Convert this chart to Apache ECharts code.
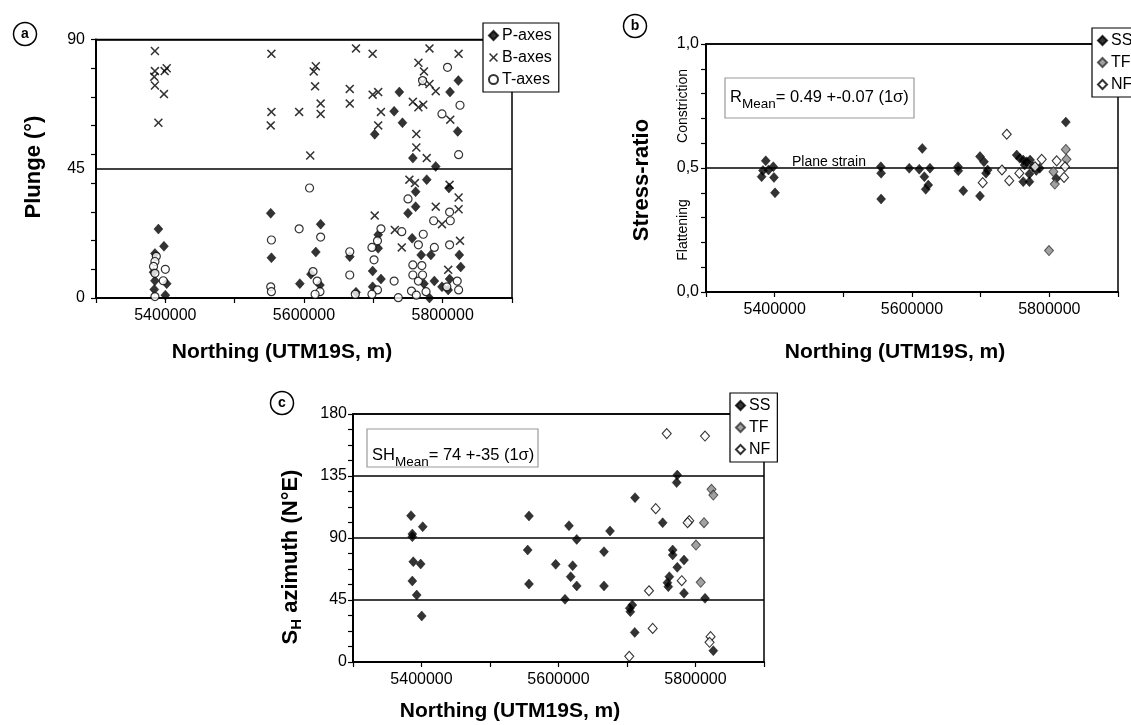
<!DOCTYPE html>
<html><head><meta charset="utf-8">
<script src="https://cdn.jsdelivr.net/npm/echarts/dist/echarts.min.js"></script>
<style>html,body{margin:0;padding:0;background:#fff}#c{width:1131px;height:725px}</style>
</head><body><div id="c"></div>
<script>
// ---------- data ----------
const northingLabels = [5400000, 5600000, 5800000];
const plungeLabels = [0, 45, 90];
const ratioLabels = [0, 0.5, 1];
const azimuthLabels = [0, 45, 90, 135, 180];

const pAxes = [[5390000,24],[5398000,18],[5385000,15.5],[5383000,9],[5385000,6],[5402000,5],[5384000,3],[5400000,1],
 [5552000,29.5],[5553000,14],[5594000,5],[5610000,8.3],[5617000,16],[5624000,25.7],[5623000,4.5],
 [5666000,14.4],[5675000,2],[5699000,9.4],[5699000,3.9],[5707000,22],[5707000,17.3],[5711000,6.6],[5702000,57],
 [5730000,65],[5737500,71.7],[5742000,61],[5750000,29.5],[5757000,48.7],[5756000,20.8],[5761000,37],[5761000,31.8],
 [5769000,15],[5777000,41.2],[5773000,5],[5781000,0],[5783000,15],[5788000,5.9],[5790000,45.8],
 [5799000,3.9],[5808000,2.8],[5810000,6.6],[5809000,38.3],[5810600,71.7],[5822600,75.7],[5821700,58],[5824000,15],[5826000,10.8]];
const bAxes = [[5385000,86],[5385000,79],[5402000,80],[5384000,77],[5385000,74],[5398000,71],[5390000,61],[5399000,79],
 [5553000,85],[5553000,64.8],[5552000,60.1],[5593000,64.8],[5609000,49.6],[5617000,80.7],[5614000,78.9],[5616000,73.7],
 [5624000,67.7],[5624000,64.1],[5675000,86.9],[5666000,72.8],[5666000,67.7],[5699000,85],[5699000,70.8],[5707000,71.7],
 [5711000,64.8],[5707000,60.1],[5765000,81.9],[5781000,86.9],[5773000,78.9],[5771000,75.2],[5781000,74.5],[5790000,72],
 [5757000,68.3],[5765000,66.4],[5772000,67.3],[5823000,85],[5811000,62.1],[5762000,57.1],[5762000,52.4],[5777000,48.7],
 [5752000,41.2],[5760000,40],[5810000,39.4],[5823000,35],[5790000,31.8],[5823000,30.9],[5799000,25.7],[5702000,28.7],
 [5731000,23.7],[5741000,17.6],[5825000,19.9],[5808000,9.8]];
const tAxes = [[5387000,14.5],[5385000,12.7],[5383000,11],[5385000,8.6],[5400000,10],[5397000,6],[5385000,0.5],
 [5807000,80.3],[5825000,67.1],[5799000,64.1],[5771000,75.7],[5823000,49.9],
 [5608000,38.3],[5593000,24.1],[5553000,20.2],[5624000,21.2],[5552000,3.9],[5553000,2.2],[5613000,9.2],[5619000,5.9],
 [5623000,2.2],[5616000,1.3],[5666000,16.1],[5666000,8],[5674000,1.3],[5711000,24.1],[5706000,19.9],[5698000,17.6],
 [5701000,13.3],[5706000,2.8],[5698000,1.3],[5730000,5.9],[5736000,0.1],[5750000,34.5],[5741000,23.1],[5772000,22.2],
 [5765000,18.5],[5787000,26.9],[5810000,29.9],[5811000,26.9],[5810000,18.5],[5788000,17.6],[5757000,11.5],[5770000,11.3],
 [5757000,8],[5765000,5.9],[5771000,8],[5755000,2.4],[5762000,1],[5776000,2.2],[5821000,5.9],[5823000,2.8],[5806000,3.9]];

const ratioSS = [[5381000,0.465],[5387000,0.529],[5391000,0.492],[5398000,0.505],[5383000,0.49],[5399000,0.462],[5400500,0.40],
 [5554600,0.505],[5555000,0.479],[5555000,0.375],[5596000,0.499],[5610600,0.495],[5626200,0.499],[5615000,0.579],
 [5618000,0.465],[5623700,0.431],[5620000,0.414],[5667000,0.505],[5667400,0.489],[5674700,0.408],
 [5699000,0.546],[5704800,0.525],[5710200,0.492],[5707800,0.479],[5699000,0.387],
 [5752500,0.552],[5757000,0.539],[5762000,0.532],[5767000,0.525],[5772000,0.532],[5764000,0.512],[5776000,0.505],
 [5762000,0.445],[5771000,0.445],[5771000,0.476],[5786000,0.499],[5781000,0.49],[5810000,0.458],[5824000,0.685]];
const ratioTF = [[5806000,0.485],[5824000,0.575],[5825000,0.535],[5808000,0.435],[5799500,0.167]];
const ratioNF = [[5703000,0.441],[5731000,0.492],[5738000,0.636],[5741600,0.449],[5756300,0.479],[5779100,0.505],
 [5788900,0.535],[5810700,0.529],[5822800,0.505],[5821400,0.462]];

const azSS = [[5384700,106.2],[5401800,98.2],[5386600,92.9],[5386600,90.9],[5388000,72.8],[5398800,71.1],[5386600,58.8],
 [5393000,48.6],[5400300,33.4],[5556900,106],[5555000,81.3],[5556900,56.6],[5615300,98.9],[5626600,89],[5595900,70.9],
 [5620700,69.9],[5617800,61.9],[5626600,55.2],[5609500,45.5],[5675200,95.1],[5666400,80.1],[5666400,55.2],
 [5711700,119.3],[5704000,39],[5707800,41.4],[5704900,36.5],[5711300,21.5],[5773400,135.7],[5772500,130.2],
 [5752100,101.1],[5766700,81.3],[5766700,77.7],[5783200,74],[5773400,68.7],[5761800,61.9],[5760300,54.7],
 [5759000,57.5],[5783200,49.9],[5813900,46.2],[5826000,8.2]];
const azTF = [[5823400,125.3],[5826000,121.2],[5812400,101.1],[5800700,84.9],[5807600,57.8]];
const azNF = [[5758000,165.8],[5813900,164],[5741900,111.3],[5790900,102.6],[5788500,101.1],[5779900,59],[5732100,51.7],
 [5737500,24.4],[5822000,18.4],[5820500,14.3],[5703300,4.1]];

// ---------- chart ----------
const FONT = "'Liberation Sans', Arial, Helvetica, sans-serif";
const cv = document.createElement('canvas').getContext('2d');
function tw(t, size, weight) { cv.font = (weight || 'normal') + ' ' + size + 'px ' + FONT; return cv.measureText(t).width; }

const XPATH = 'path://M0,1.2L1.2,0L5,3.8L8.8,0L10,1.2L6.2,5L10,8.8L8.8,10L5,6.2L1.2,10L0,8.8L3.8,5Z';

const gridBase = { show: true, borderColor: '#000', borderWidth: 1.5, backgroundColor: 'rgba(0,0,0,0)', containLabel: false, outerBoundsMode: 'none' };
const grids = [
  Object.assign({}, gridBase, { left: 96, top: 39.5, width: 416, height: 258.5 }),
  Object.assign({}, gridBase, { left: 706, top: 44, width: 412, height: 248 }),
  Object.assign({}, gridBase, { left: 353, top: 414, width: 411, height: 248 })
];

function xAx(gi) {
  return { type: 'value', gridIndex: gi, min: 5300000, max: 5900000, interval: 100000,
    axisLine: { show: true, onZero: false, lineStyle: { color: '#000', width: 2 } },
    axisTick: { show: true, length: 5, lineStyle: { color: '#000', width: 1.2 } },
    axisLabel: { show: true, color: '#000', fontSize: 16, fontFamily: FONT, margin: 10,
      formatter: v => northingLabels.indexOf(v) >= 0 ? String(v) : '' },
    splitLine: { show: false } };
}
function yLab(gi, labels, fmt, margin) {
  return { type: 'value', gridIndex: gi, min: labels[0], max: labels[labels.length - 1], interval: labels[1] - labels[0], position: 'left',
    axisLine: { show: true, onZero: false, lineStyle: { color: '#000', width: 2 } }, axisTick: { show: false },
    axisLabel: { show: true, color: '#000', fontSize: 16, fontFamily: FONT, margin: margin, formatter: fmt },
    splitLine: { show: true, lineStyle: { color: '#000', width: 1.5 } } };
}
function yTick(gi, max, interval) {
  return { type: 'value', gridIndex: gi, min: 0, max: max, interval: interval, position: 'left',
    axisLine: { show: false, onZero: false }, axisTick: { show: true, length: 5, lineStyle: { color: '#000', width: 1.2 } },
    axisLabel: { show: false }, splitLine: { show: false } };
}

const diamondBlack = { symbol: 'diamond', symbolSize: [9, 10], itemStyle: { color: '#000', borderColor: '#000', borderWidth: 0.5 } };
const diamondGray = { symbol: 'diamond', symbolSize: [9, 10], itemStyle: { color: '#8a8a8a', borderColor: '#333', borderWidth: 1 } };
const diamondOpen = { symbol: 'diamond', symbolSize: [9, 10], itemStyle: { color: '#fff', borderColor: '#000', borderWidth: 1.1 } };

function sc(name, xi, yi, data, st) {
  return Object.assign({ type: 'scatter', name: name, xAxisIndex: xi, yAxisIndex: yi, data: data, silent: true,
    emphasis: { disabled: true }, animation: false }, st);
}

const legendBase = { orient: 'vertical', itemWidth: 9, itemHeight: 9, itemGap: 5, selectedMode: false,
  padding: [4, 7, 4, 5], borderColor: '#000', borderWidth: 1.2, backgroundColor: '#fff', borderRadius: 0,
  textStyle: { fontSize: 16, fontFamily: FONT, color: '#000', lineHeight: 17, padding: [0, 0, 0, -1] }, z: 10 };

// graphics
const g = [];
function circ(cx, cy, letter) {
  g.push({ type: 'circle', shape: { cx: cx, cy: cy, r: 11.5 }, style: { fill: '#fff', stroke: '#000', lineWidth: 1.5 }, z: 20 });
  g.push({ type: 'text', x: cx, y: cy, style: { text: letter, font: 'bold 14px ' + FONT, fill: '#000', align: 'center', verticalAlign: 'middle', textAlign: 'center', textVerticalAlign: 'middle' }, z: 21 });
}
function txt(x, y, text, size, weight, align, rot) {
  g.push({ type: 'text', x: x, y: y, rotation: rot || 0,
    style: { text: text, font: (weight || 'normal') + ' ' + size + 'px ' + FONT, fill: '#000', align: align || 'left', verticalAlign: 'middle', textAlign: align || 'left', textVerticalAlign: 'middle' }, z: 20 });
}
circ(25, 34, 'a'); circ(635, 26, 'b'); circ(282, 403, 'c');

txt(34, 167, 'Plunge (°)', 22, 'bold', 'center', Math.PI / 2);
txt(642, 180, 'Stress-ratio', 22, 'bold', 'center', Math.PI / 2);
txt(282, 352, 'Northing (UTM19S, m)', 21, 'bold', 'center');
txt(895, 352, 'Northing (UTM19S, m)', 21, 'bold', 'center');
txt(510, 711, 'Northing (UTM19S, m)', 21, 'bold', 'center');

// S_H azimuth title (rotated group)
(function () {
  const a = 'S', b = 'H', c = ' azimuth (N°E)';
  const wa = tw(a, 22, 'bold'), wb = tw(b, 15, 'bold'), wc = tw(c, 22, 'bold');
  const tot = wa + wb + wc, x0 = -tot / 2;
  const mk = (x, y, t, s) => ({ type: 'text', x: x, y: y, style: { text: t, font: 'bold ' + s + 'px ' + FONT, fill: '#000', align: 'left', verticalAlign: 'middle', textAlign: 'left', textVerticalAlign: 'middle' } });
  g.push({ type: 'group', x: 291, y: 557, rotation: Math.PI / 2, z: 20,
    children: [mk(x0, 0, a, 22), mk(x0 + wa, 6, b, 15), mk(x0 + wa + wb, 0, c, 22)] });
})();

txt(683, 106, 'Constriction', 14, 'normal', 'center', Math.PI / 2);
txt(683, 230, 'Flattening', 14, 'normal', 'center', Math.PI / 2);
txt(792, 162, 'Plane strain', 14, 'normal', 'left');

function meanBox(bx, by, bw, bh, main, rest, ty) {
  g.push({ type: 'rect', shape: { x: bx, y: by, width: bw, height: bh }, style: { fill: '#fff', stroke: '#9a9a9a', lineWidth: 1.2 }, z: 15 });
  const x0 = bx + 5;
  const w1 = tw(main, 16.5), w2 = tw('Mean', 13.5);
  txt(x0, ty, main, 16.5, 'normal', 'left');
  txt(x0 + w1, ty + 7, 'Mean', 13.5, 'normal', 'left');
  txt(x0 + w1 + w2, ty, rest, 16.5, 'normal', 'left');
}
meanBox(725, 78, 189, 40, 'R', '= 0.49 +-0.07 (1σ)', 97);
meanBox(367, 429, 171, 38, 'SH', '= 74 +-35 (1σ)', 455);

const option = {
  backgroundColor: '#fff',
  animation: false,
  grid: grids,
  xAxis: [xAx(0), xAx(1), xAx(2)],
  yAxis: [
    yLab(0, plungeLabels, v => String(v), 11), yTick(0, 90, 10),
    yLab(1, ratioLabels, v => v.toFixed(1).replace('.', ','), 7), yTick(1, 1, 0.1),
    yLab(2, azimuthLabels, v => String(v), 6), yTick(2, 180, 11.25)
  ],
  legend: [
    Object.assign({}, legendBase, { data: ['P-axes', 'B-axes', 'T-axes'], left: 483, top: 23 }),
    Object.assign({}, legendBase, { data: ['SS', 'TF', 'NF'], left: 1092, top: 28 }),
    Object.assign({}, legendBase, { data: ['SS', 'TF', 'NF'], left: 730, top: 393 })
  ],
  graphic: g,
  series: [
    sc('P-axes', 0, 0, pAxes, diamondBlack),
    sc('B-axes', 0, 0, bAxes, { symbol: XPATH, symbolSize: 9, itemStyle: { color: '#000' } }),
    sc('T-axes', 0, 0, tAxes, { symbol: 'circle', symbolSize: 8, itemStyle: { color: '#fff', borderColor: '#000', borderWidth: 1.2 } }),
    sc('SS', 1, 2, ratioSS, diamondBlack),
    sc('TF', 1, 2, ratioTF, diamondGray),
    sc('NF', 1, 2, ratioNF, diamondOpen),
    sc('SS', 2, 4, azSS, diamondBlack),
    sc('TF', 2, 4, azTF, diamondGray),
    sc('NF', 2, 4, azNF, diamondOpen)
  ]
};
const chart = echarts.init(document.getElementById('c'), null, { renderer: 'canvas' });
chart.setOption(option);
</script></body></html>
